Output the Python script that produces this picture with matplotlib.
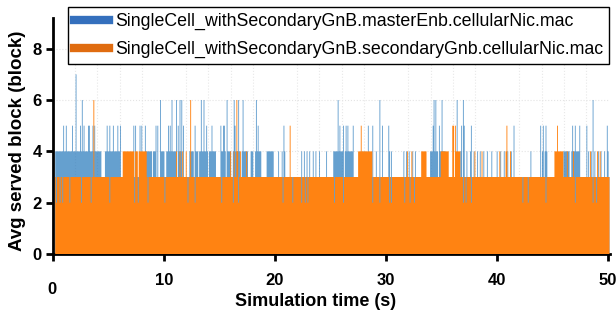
import numpy as np
import matplotlib
matplotlib.use("Agg")
import matplotlib.pyplot as plt
from matplotlib.lines import Line2D

# ---------------- data ----------------
series_names = ["SingleCell_withSecondaryGnB.masterEnb.cellularNic.mac",
                "SingleCell_withSecondaryGnB.secondaryGnb.cellularNic.mac"]
t_start, t_end, dt = 0.2, 50.1, 0.08
base_level = 3

# master eNB (blue): stretches at level 4, single samples at 4, spikes
blue_level4_segments = [(0.2, 0.7), (0.8, 1.4), (1.5, 2.6), (2.7, 3.3), (3.4, 4.3),
                        (4.7, 5.2), (5.3, 6.0), (8.4, 8.9), (9.0, 9.3),
                        (9.7, 10.0), (10.2, 11.0), (11.3, 11.6), (12.3, 12.6),
                        (12.8, 13.0), (13.2, 13.9), (14.1, 14.6), (15.1, 15.5),
                        (15.7, 16.0), (16.2, 16.8), (17.0, 17.5), (17.8, 18.0),
                        (18.2, 18.7), (19.3, 19.8), (25.3, 26.1), (26.3, 27.0),
                        (34.0, 34.6), (34.8, 35.3), (46.0, 46.5), (46.7, 47.4)]
blue_level4_times = [20.3, 20.6, 20.9, 22.4, 22.6, 22.9, 23.1, 23.4, 23.7, 24.0, 24.6,
                     27.8, 28.1, 28.8, 29.1, 29.4, 30.3, 30.5, 31.6, 31.8, 32.1, 32.4,
                     32.6, 36.4, 36.7, 37.0, 37.3, 37.6, 37.9, 38.2, 38.5, 38.8, 39.1,
                     39.5, 40.0, 40.3, 40.6, 41.0, 41.3, 43.0, 43.9, 44.1, 44.3, 44.5,
                     48.2, 48.5, 48.8, 49.1, 49.4, 49.7, 50.0]
blue_spike_times = [0.93, 1.23, 1.76, 2.06, 2.48, 2.66, 2.81, 3.17, 3.32, 3.56, 3.77,
                    4.87, 5.11, 5.41, 5.86, 6.07, 7.26, 7.44, 7.80, 8.04, 8.34, 9.24,
                    9.45, 9.70, 10.39, 10.54, 10.72, 11.14, 11.29, 11.40, 11.56, 11.73,
                    12.78, 13.32, 13.62, 13.83, 14.28, 15.11, 15.32, 15.47, 15.71, 16.31,
                    16.43, 16.70, 17.15, 18.28, 18.46, 20.80, 25.67, 25.82, 26.12, 26.36,
                    26.57, 27.02, 28.36, 28.81, 29.41, 29.71, 30.25, 34.23, 34.31, 34.48,
                    34.82, 35.07, 36.41, 36.77, 36.92, 37.07, 37.72, 41.50, 43.93, 44.14,
                    44.44, 46.83, 47.07, 47.43, 48.08, 48.62, 49.88]
blue_spike_values = [5, 5, 5, 7, 5, 6, 5, 5, 5, 5, 5,
                     5, 5, 5, 5, 5, 5, 5, 5, 5, 5, 5,
                     5, 6, 5, 5, 6, 6, 5, 6, 6, 5,
                     5, 6, 6, 5, 5, 5, 5, 5, 6, 6,
                     5, 6, 6, 6, 5, 5, 6, 5, 5, 5,
                     5, 5, 5, 5, 6, 5, 5, 5, 6, 6,
                     5, 6, 6, 5, 6, 5, 5, 5, 5, 5,
                     5, 5, 5, 5, 5, 6, 5]

# secondary gNB (orange)
orange_level4_segments = [(6.3, 8.4), (27.5, 28.8), (33.2, 33.6), (35.0, 35.6),
                          (36.3, 36.6), (45.2, 45.9)]
orange_level4_times = [11.1, 11.4, 11.7, 12.0, 16.0, 16.3, 16.6, 16.9, 17.4, 31.9, 32.3,
                       37.2, 38.0, 38.6, 40.2, 40.8, 41.2, 46.3, 46.9, 48.4, 49.0, 49.3]
orange_spike_times = [3.71, 12.40, 16.55, 21.34, 27.76, 36.0, 36.1, 36.2, 40.85, 45.48]
orange_spike_values = [6, 6, 6, 5, 5, 5, 5, 5, 5, 5]
orange_dip_times = [0.33, 0.63, 0.87, 1.52, 2.57, 3.47, 5.11, 7.35, 7.65, 8.55, 10.09,
                    12.18, 12.78, 15.23, 16.22, 16.73, 20.74, 21.63, 22.38, 22.68, 22.98,
                    25.37, 26.12, 28.81, 29.41, 30.34, 30.49, 31.68, 32.13, 32.58, 36.92,
                    37.22, 37.66, 42.34, 42.79, 44.44, 47.07, 48.62, 48.92]
orange_dip_value = 2

x_ticks = [0, 10, 20, 30, 40, 50]
y_ticks = [0, 2, 4, 6, 8]

# ---------------- build step series ----------------
n = int(round((t_end - t_start) / dt))
edges = t_start + dt * np.arange(n + 1)


def idx(t):
    return int(np.clip(np.floor((t - t_start) / dt), 0, n - 1))


def build(level4_segments, level4_times, spike_t, spike_v):
    v = np.full(n, float(base_level))
    for a, b in level4_segments:
        v[idx(a):idx(b) + 1] = 4
    for t in level4_times:
        v[idx(t)] = max(v[idx(t)], 4)
    for t, s in zip(spike_t, spike_v):
        v[idx(t)] = max(v[idx(t)], s)
    return v


blue_vals = build(blue_level4_segments, blue_level4_times, blue_spike_times, blue_spike_values)
orange_vals = build(orange_level4_segments, orange_level4_times, orange_spike_times, orange_spike_values)
for t in orange_dip_times:
    orange_vals[idx(t)] = orange_dip_value

# ---------------- draw ----------------
plt.rcParams['font.family'] = ['Liberation Sans', 'DejaVu Sans']
fig = plt.figure(figsize=(6.16, 3.14), dpi=100)
ax = fig.add_axes([0.086, 0.191, 0.904, 0.752])

ax.stairs(blue_vals, edges, fill=True, color='#2a7bbd', alpha=0.72, linewidth=0, zorder=2)
ax.stairs(orange_vals, edges, fill=True, color='#ff8312', linewidth=0, zorder=3)

ax.set_xlim(0, 50.15)
ax.set_ylim(0, 9.2)
ax.set_xticks(x_ticks)
ax.set_xticklabels([''] + [str(v) for v in x_ticks[1:]])
ax.set_yticks(y_ticks)
ax.set_xticks(np.arange(0, 51, 2), minor=True)
ax.grid(True, which='major', axis='y', color='#e4e4e4', linestyle=':', linewidth=0.8, zorder=0)
ax.grid(True, which='minor', axis='x', color='#e8e8e8', linestyle=':', linewidth=0.8, zorder=0)
ax.tick_params(axis='x', which='minor', length=0)
ax.tick_params(which='major', direction='out', length=5, width=2, labelsize=12)
ax.tick_params(axis='x', which='major', pad=9)
ax.tick_params(axis='y', which='major', pad=3)
for lab in ax.get_xticklabels() + ax.get_yticklabels():
    lab.set_fontweight('bold')
for side in ['top', 'right']:
    ax.spines[side].set_visible(False)
for side in ['left', 'bottom']:
    ax.spines[side].set_linewidth(2)

fig.text(52 / 616, 1 - 290 / 314, '0', ha='center', va='center', fontsize=12, fontweight='bold')
fig.text(316 / 616, 1 - 301 / 314, 'Simulation time (s)', ha='center', va='center',
         fontsize=13, fontweight='bold')
ax.set_ylabel('Avg served block (block)', fontsize=13.5, fontweight='bold', labelpad=3)
ax.yaxis.set_label_coords(-0.048, 0.48)

handles = [Line2D([0], [0], color='#3470bd', linewidth=6),
           Line2D([0], [0], color='#e06c10', linewidth=6)]
leg = ax.legend(handles, series_names, loc='upper left', bbox_to_anchor=(0.027, 1.047),
                fontsize=12.8, frameon=True, fancybox=False, handlelength=1.95,
                handletextpad=0.34, borderpad=0.35, labelspacing=0.6, borderaxespad=0)
leg.get_frame().set_edgecolor('black')
leg.get_frame().set_linewidth(1)
leg.get_frame().set_alpha(1)
leg.set_zorder(10)

fig.savefig('out.png', dpi=100)
